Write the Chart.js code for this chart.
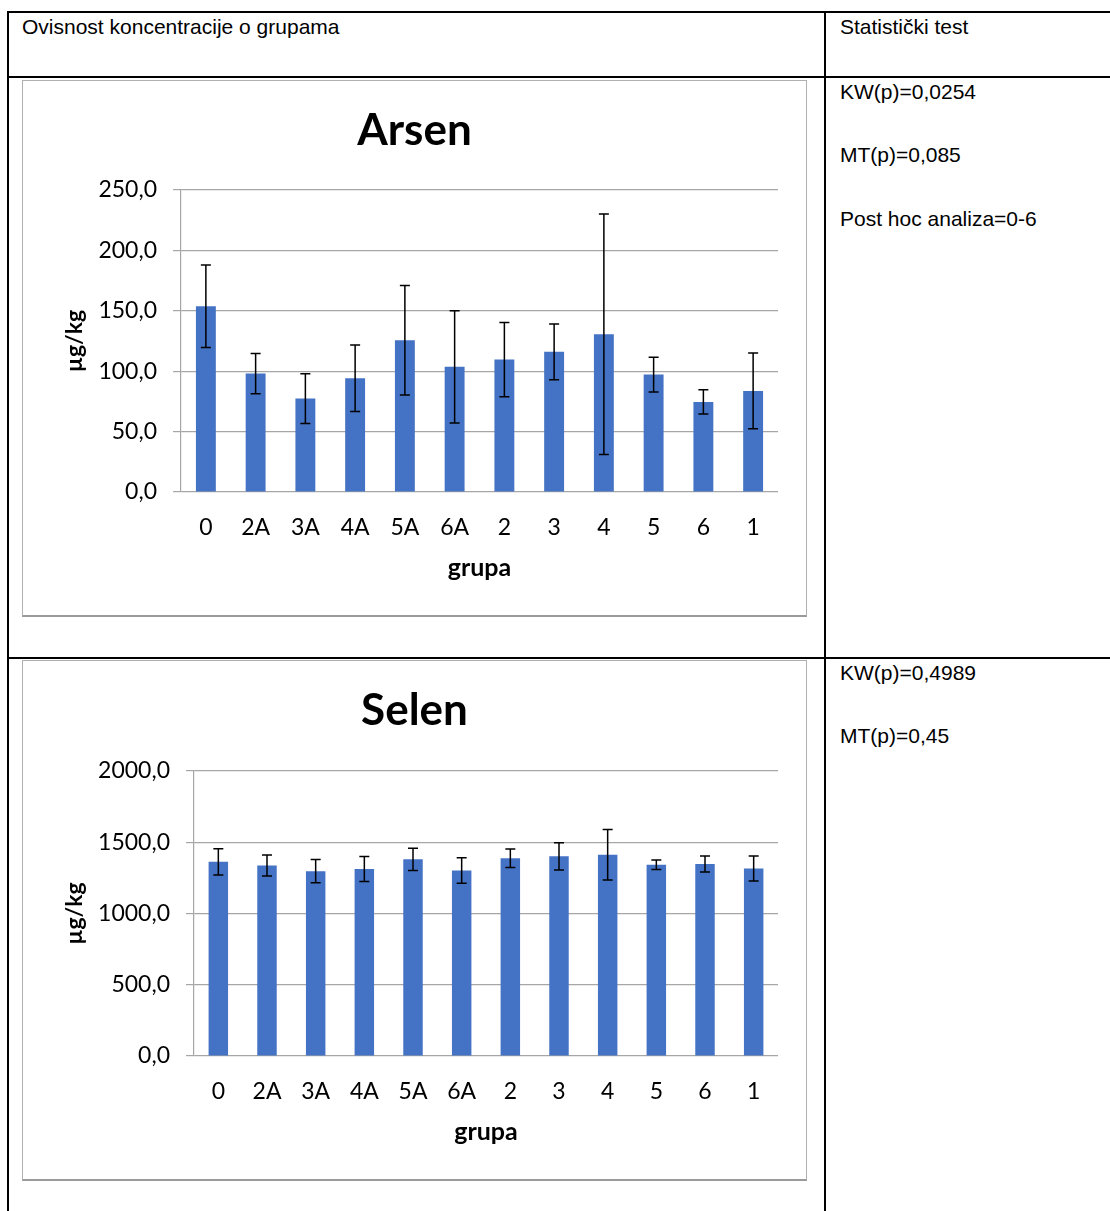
<!DOCTYPE html>
<html>
<head>
<meta charset="utf-8">
<script src="https://cdn.jsdelivr.net/npm/chart.js@4"></script>
<style>
  body { margin: 0; background: #fff; width: 1110px; height: 1211px; overflow: hidden; position: relative; font-family: "Liberation Sans", Arial, sans-serif; }
  .ln { position: absolute; background: #000; }
  .txt { position: absolute; font-size: 21px; line-height: 24px; color: #000; white-space: nowrap; }
  .box { position: absolute; left: 22px; width: 783px; border: 1px solid #b0b0b0; border-bottom: 2px solid #9a9a9a; background: #fff; }
  .box canvas { display: block; }
</style>
</head>
<body>
<!-- table lines -->
<div class="ln" style="left:8px;top:11px;width:1102px;height:2px"></div>
<div class="ln" style="left:8px;top:76px;width:1102px;height:2px"></div>
<div class="ln" style="left:8px;top:657px;width:1102px;height:2px"></div>
<div class="ln" style="left:7px;top:11px;width:2px;height:1200px"></div>
<div class="ln" style="left:824px;top:11px;width:2px;height:1200px"></div>

<div class="txt" style="left:22px;top:15px">Ovisnost koncentracije o grupama</div>
<div class="txt" style="left:840px;top:15px">Statistički test</div>

<div class="txt" style="left:840px;top:80px">KW(p)=0,0254</div>
<div class="txt" style="left:840px;top:143px">MT(p)=0,085</div>
<div class="txt" style="left:840px;top:207px">Post hoc analiza=0-6</div>

<div class="txt" style="left:840px;top:661px">KW(p)=0,4989</div>
<div class="txt" style="left:840px;top:724px">MT(p)=0,45</div>

<div class="box" style="top:80px;height:534px"><canvas id="arsen" width="783" height="534"></canvas></div>
<div class="box" style="top:660px;height:518px"><canvas id="selen" width="783" height="518"></canvas></div>

<script>
const groups = ['0', '2A', '3A', '4A', '5A', '6A', '2', '3', '4', '5', '6', '1'];

const arsenMean = [153.8, 98.0, 77.3, 94.2, 125.7, 103.6, 109.6, 116.0, 130.6, 97.2, 74.6, 83.7];
const arsenSd = [34.2, 16.6, 20.5, 27.5, 45.3, 46.5, 30.8, 23.0, 99.6, 14.4, 10.1, 31.3];

const selenMean = [1363, 1337, 1297, 1312, 1380, 1302, 1387, 1401, 1412, 1342, 1347, 1316];
const selenSd = [92, 73, 82, 88, 78, 90, 65, 96, 177, 33, 56, 88];

const FONT = 'Lato, "Open Sans", sans-serif';
const GRID = '#a6a6a6';

// draws mean +/- sd whiskers on top of the bars
const errorBars = {
    id: 'errorBars',
    afterDatasetsDraw(chart, args, opts) {
        const ctx = chart.ctx;
        const y = chart.scales.y;
        const meta = chart.getDatasetMeta(0);
        const sd = opts.sd || [];
        ctx.save();
        ctx.strokeStyle = '#000';
        ctx.lineWidth = 1.5;
        meta.data.forEach((bar, i) => {
            const v = chart.data.datasets[0].data[i];
            const top = y.getPixelForValue(v + sd[i]);
            const bot = y.getPixelForValue(v - sd[i]);
            const x = bar.x;
            ctx.beginPath();
            ctx.moveTo(x, top); ctx.lineTo(x, bot);
            ctx.moveTo(x - 5, top); ctx.lineTo(x + 5, top);
            ctx.moveTo(x - 5, bot); ctx.lineTo(x + 5, bot);
            ctx.stroke();
        });
        ctx.restore();
    }
};

function makeChart(id, title, mean, sd, max, step, yWidth, titleBottomPad) {
    const canvas = document.getElementById(id);
    return new Chart(canvas, {
        type: 'bar',
        data: {
            labels: groups,
            datasets: [{
                data: mean,
                backgroundColor: '#4472C4',
                borderWidth: 0,
                barPercentage: 0.4,
                categoryPercentage: 1.0
            }]
        },
        options: {
            responsive: false,
            animation: false,
            layout: { padding: { left: 28, right: 28, top: 0, bottom: 0 } },
            plugins: {
                legend: { display: false },
                tooltip: { enabled: false },
                title: {
                    display: true,
                    text: title,
                    color: '#000',
                    font: { family: FONT, size: 44, weight: 'bold', lineHeight: 1.2 },
                    padding: { top: 23.6, bottom: titleBottomPad }
                },
                errorBars: { sd: sd }
            },
            scales: {
                x: {
                    grid: { display: false, drawTicks: false },
                    border: { display: false },
                    ticks: {
                        color: '#000',
                        font: { family: FONT, size: 23 },
                        padding: 22,
                        autoSkip: false,
                        maxRotation: 0
                    },
                    title: {
                        display: true,
                        text: 'grupa',
                        color: '#000',
                        font: { family: FONT, size: 25, weight: 'bold', lineHeight: 1.2 },
                        padding: { top: 0, bottom: 32 }
                    },
                    afterFit(scale) { scale.height = 123; }
                },
                y: {
                    min: 0,
                    max: max,
                    ticks: {
                        stepSize: step,
                        color: '#000',
                        font: { family: FONT, size: 23 },
                        padding: 16,
                        callback: v => v.toFixed(1).replace('.', ',')
                    },
                    grid: { color: GRID, lineWidth: 1.2, tickLength: 8, drawTicks: true },
                    border: { color: GRID, width: 1.2 },
                    title: {
                        display: true,
                        text: 'µg/kg',
                        color: '#000',
                        font: { family: FONT, size: 23, weight: 'bold', lineHeight: 1.2 },
                        padding: { top: 10, bottom: 0 }
                    },
                    afterFit(scale) { scale.width = yWidth; }
                }
            }
        },
        plugins: [errorBars]
    });
}

makeChart('arsen', 'Arsen', arsenMean, arsenSd, 250, 50, 130, 32.6);
makeChart('selen', 'Selen', selenMean, selenSd, 2000, 500, 143, 33.6);
</script>
</body>
</html>
